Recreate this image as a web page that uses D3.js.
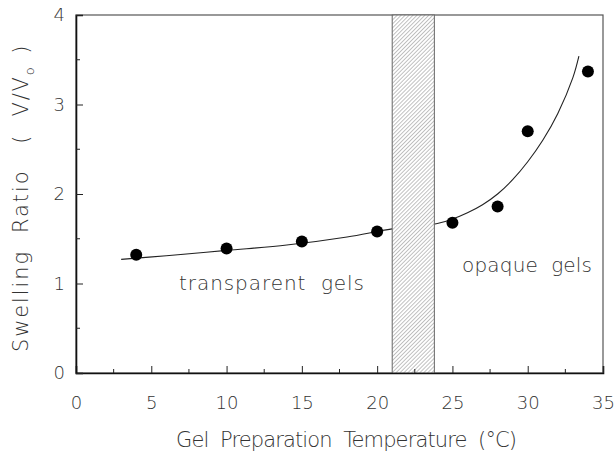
<!DOCTYPE html>
<html>
<head>
<meta charset="utf-8">
<script src="https://cdn.jsdelivr.net/npm/d3@7"></script>
<style>
  body { margin: 0; background: #fff; }
  text { font-family: "DejaVu Sans", sans-serif; font-weight: 200; fill: #333; white-space: pre; }
</style>
</head>
<body>
<svg id="chart" width="616" height="458"></svg>
<script>
// measured points
const temps = [4, 10, 15, 20, 25, 28, 30, 34];
const ratios = [1.32, 1.39, 1.47, 1.58, 1.68, 1.86, 2.70, 3.37];

// fitted curve
const fitTemps = [3, 6, 10, 14, 18, 21, 24, 25, 26, 27, 28, 29, 30, 31, 32, 33, 33.4];
const fitRatios = [1.27, 1.31, 1.37, 1.43, 1.52, 1.61, 1.67, 1.72, 1.79, 1.88, 2.00, 2.16, 2.36, 2.60, 2.90, 3.30, 3.54];

// transition band
const band = [21, 23.8];

const xTicks = [0, 5, 10, 15, 20, 25, 30, 35];
const xMinor = [2.5, 7.5, 12.5, 17.5, 22.5, 27.5, 32.5];
const yTicks = [0, 1, 2, 3, 4];
const yMinor = [0.5, 1.5, 2.5, 3.5];

const margin = { top: 15, right: 13, bottom: 85, left: 76 };
const width = 616 - margin.left - margin.right;
const height = 458 - margin.top - margin.bottom;

const svg = d3.select("#chart");

const x = d3.scaleLinear().domain([0, 35]).range([0, width]);
const y = d3.scaleLinear().domain([0, 4]).range([height, 0]);

const defs = svg.append("defs");
const hatch = defs.append("pattern")
    .attr("id", "hatch")
    .attr("patternUnits", "userSpaceOnUse")
    .attr("width", 2.8)
    .attr("height", 2.8)
    .attr("patternTransform", "rotate(45)");
hatch.append("rect")
    .attr("width", 2.8)
    .attr("height", 2.8)
    .attr("fill", "#fff");
hatch.append("line")
    .attr("x1", 0).attr("y1", 0)
    .attr("x2", 0).attr("y2", 2.8)
    .attr("stroke", "#777")
    .attr("stroke-width", 0.9);

const g = svg.append("g")
    .attr("transform", `translate(${margin.left},${margin.top})`);

// frame
g.append("rect")
    .attr("width", width)
    .attr("height", height)
    .attr("fill", "none")
    .attr("stroke", "#555")
    .attr("stroke-width", 1.2);

// fitted line
g.append("path")
    .datum(fitTemps.map((t, i) => [t, fitRatios[i]]))
    .attr("fill", "none")
    .attr("stroke", "#222")
    .attr("stroke-width", 1.1)
    .attr("d", d3.line()
      .x(d => x(d[0]))
      .y(d => y(d[1]))
      .curve(d3.curveCatmullRom));

// band drawn over the line
g.append("rect")
    .attr("x", x(band[0]))
    .attr("y", y(4))
    .attr("width", x(band[1]) - x(band[0]))
    .attr("height", y(0) - y(4))
    .attr("fill", "url(#hatch)")
    .attr("stroke", "#666")
    .attr("stroke-width", 1);

// axes
const xAxis = g.append("g")
    .attr("transform", `translate(0,${height})`)
    .call(d3.axisBottom(x).tickValues(xTicks).tickSize(-7).tickPadding(23).tickFormat(d3.format("d")));
xAxis.append("g")
    .selectAll("line")
    .data(xMinor)
  .enter().append("line")
    .attr("x1", d => x(d)).attr("x2", d => x(d))
    .attr("y1", 0).attr("y2", -4)
    .attr("stroke", "#222");

const yAxis = g.append("g")
    .call(d3.axisLeft(y).tickValues(yTicks).tickSize(-7).tickPadding(11).tickFormat(d3.format("d")));
yAxis.append("g")
    .selectAll("line")
    .data(yMinor)
  .enter().append("line")
    .attr("x1", 0).attr("x2", 4)
    .attr("y1", d => y(d)).attr("y2", d => y(d))
    .attr("stroke", "#222");

[xAxis, yAxis].forEach(a => {
  a.select(".domain").attr("stroke", "#111").attr("stroke-width", 1.6);
  a.selectAll(".tick line").attr("stroke", "#222");
  a.selectAll(".tick text")
      .style("font-size", "18px")
      .style("fill", "#333")
      .style("font-family", "\"DejaVu Sans\", sans-serif")
      .style("font-weight", 200);
});

// points
g.append("g")
    .selectAll("circle")
    .data(temps)
  .enter().append("circle")
    .attr("cx", d => x(d))
    .attr("cy", (d, i) => y(ratios[i]))
    .attr("r", 6)
    .attr("fill", "#000");

// region labels
g.append("text")
    .attr("x", 103)
    .attr("y", 275)
    .attr("textLength", 185)
    .attr("lengthAdjust", "spacing")
    .style("font-size", "20px")
    .text("transparent  gels");

g.append("text")
    .attr("x", 386)
    .attr("y", 257)
    .attr("textLength", 130)
    .attr("lengthAdjust", "spacing")
    .style("font-size", "20px")
    .text("opaque  gels");

// axis titles
svg.append("text")
    .attr("x", 176)
    .attr("y", 447)
    .attr("textLength", 341)
    .attr("lengthAdjust", "spacing")
    .style("font-size", "21px")
    .text("Gel  Preparation  Temperature  (°C)");

const yTitle = svg.append("text")
    .attr("transform", "translate(28,352) rotate(-90)")
    .style("font-size", "21px");
yTitle.append("tspan")
    .attr("textLength", 275)
    .attr("lengthAdjust", "spacing")
    .text("Swelling  Ratio   (  V/V");
yTitle.append("tspan")
    .attr("dy", 6)
    .style("font-size", "13px")
    .text("o");
yTitle.append("tspan")
    .attr("dy", -6)
    .text("  )");
</script>
</body>
</html>
